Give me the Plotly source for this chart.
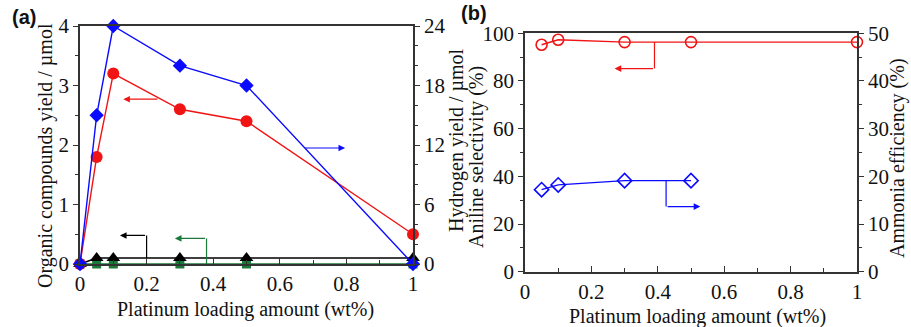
import plotly.graph_objects as go

W, H = 911, 327

# ---- Panel (a): yields vs platinum loading ----
pt_a = [0, 0.05, 0.1, 0.3, 0.5, 1.0]
organic_red = [0, 1.8, 3.2, 2.6, 2.4, 0.5]          # left axis (µmol)
hydrogen_blue = [0, 15, 24, 20, 18, 0]              # right axis (µmol)
organic_black = [0, 0.1, 0.1, 0.1, 0.1, 0.1]        # left axis (µmol)
organic_green = [0, 0, 0, 0, 0, 0]                  # left axis (µmol)

# ---- Panel (b): selectivity / efficiency ----
pt_b_sel = [0.05, 0.1, 0.3, 0.5, 1.0]
aniline_sel = [95.2, 97.3, 96.3, 96.3, 96.3]        # left axis (%)
pt_b_eff = [0.05, 0.1, 0.3, 0.5]
ammonia_eff = [17.2, 18.2, 19.1, 19.1]              # right axis (%)

# axis-pointer guides: elbow polyline + arrow tip
black_guide_x, black_guide_y = [0.2, 0.2], [0.1, 0.48]
black_tip_x = 0.12
green_guide_x, green_guide_y = [0.38, 0.38], [0, 0.43]
green_tip_x = 0.285
red_a_tail = (0.237, 2.77)
red_a_tip_x = 0.13
blue_a_tail = (0.671, 11.7)
blue_a_tip_x = 0.796
red_b_guide_x, red_b_guide_y = [0.39, 0.39], [96.3, 85.2]
red_b_tip_x = 0.27
blue_b_guide_x, blue_b_guide_y = [0.425, 0.425], [19.1, 13.65]
blue_b_tip_x = 0.528

RED = "#f01414"
BLUE = "#0a0aff"
GREEN = "#1b7a3a"
BLACK = "#000000"
AX = "#333333"
SERIF = "Liberation Serif"


def px_x(p):
    return p / W


def px_y(p):
    return 1 - p / H


fig = go.Figure()

# panel (a) traces
fig.add_trace(go.Scatter(x=pt_a, y=organic_green, mode="lines+markers",
                         line=dict(color=GREEN, width=1.6),
                         marker=dict(symbol="square", size=9, color=GREEN),
                         xaxis="x", yaxis="y", cliponaxis=False))
fig.add_trace(go.Scatter(x=pt_a, y=organic_black, mode="lines+markers",
                         line=dict(color=BLACK, width=1.6),
                         marker=dict(symbol="triangle-up", size=12, color=BLACK),
                         xaxis="x", yaxis="y", cliponaxis=False))
fig.add_trace(go.Scatter(x=pt_a, y=hydrogen_blue, mode="lines+markers",
                         line=dict(color=BLUE, width=1.4),
                         marker=dict(symbol="diamond", size=11, color=BLUE),
                         xaxis="x", yaxis="y2", cliponaxis=False))
fig.add_trace(go.Scatter(x=pt_a, y=organic_red, mode="lines+markers",
                         line=dict(color=RED, width=1.4),
                         marker=dict(symbol="circle", size=12, color=RED),
                         xaxis="x", yaxis="y", cliponaxis=False))

# panel (b) traces
fig.add_trace(go.Scatter(x=pt_b_sel, y=aniline_sel, mode="lines+markers",
                         line=dict(color=RED, width=1.4),
                         marker=dict(symbol="circle-open", size=11, color=RED,
                                     line=dict(width=1.6)),
                         xaxis="x2", yaxis="y3", cliponaxis=False))
fig.add_trace(go.Scatter(x=pt_b_eff, y=ammonia_eff, mode="lines+markers",
                         line=dict(color=BLUE, width=1.4),
                         marker=dict(symbol="diamond-open", size=11, color=BLUE,
                                     line=dict(width=1.6)),
                         xaxis="x2", yaxis="y4", cliponaxis=False))

# guide elbows
for gx, gy, col, xa, ya in [
    (black_guide_x, black_guide_y, BLACK, "x", "y"),
    (green_guide_x, green_guide_y, GREEN, "x", "y"),
    (red_b_guide_x, red_b_guide_y, RED, "x2", "y3"),
    (blue_b_guide_x, blue_b_guide_y, BLUE, "x2", "y4"),
]:
    fig.add_trace(go.Scatter(x=gx, y=gy, mode="lines", line=dict(color=col, width=1.2),
                             xaxis=xa, yaxis=ya, hoverinfo="skip"))


def arrow(tail_x, tail_y, tip_x, col, xa, ya):
    fig.add_annotation(x=tip_x, y=tail_y, ax=tail_x, ay=tail_y,
                       xref=xa, yref=ya, axref=xa, ayref=ya,
                       text="", showarrow=True, arrowhead=2, arrowsize=1.1,
                       arrowwidth=1.2, arrowcolor=col)


arrow(black_guide_x[1], black_guide_y[1], black_tip_x, BLACK, "x", "y")
arrow(green_guide_x[1], green_guide_y[1], green_tip_x, GREEN, "x", "y")
arrow(red_a_tail[0], red_a_tail[1], red_a_tip_x, RED, "x", "y")
arrow(blue_a_tail[0], blue_a_tail[1], blue_a_tip_x, BLUE, "x", "y2")
arrow(red_b_guide_x[1], red_b_guide_y[1], red_b_tip_x, RED, "x2", "y3")
arrow(blue_b_guide_x[1], blue_b_guide_y[1], blue_b_tip_x, BLUE, "x2", "y4")

tickfont = dict(family=SERIF, size=21, color="#111111")
common_x = dict(range=[0, 1], dtick=0.2, tick0=0, ticks="inside", ticklen=6,
                tickwidth=1.2, tickcolor=AX, showline=True, linecolor=AX,
                linewidth=1.5, mirror=True, showgrid=False, zeroline=False,
                tickfont=tickfont, tickformat="~g", automargin=False,
                minor=dict(dtick=0.1, ticks="inside", ticklen=4, tickcolor=AX))
common_y = dict(ticks="outside", ticklen=5, tickwidth=1.2, tickcolor=AX,
                showline=True, linecolor=AX, linewidth=1.5, showgrid=False,
                zeroline=False, tickfont=tickfont, automargin=False)

ya_dom = [px_y(264), px_y(26)]
yb_dom = [px_y(271.7), px_y(33.3)]

fig.update_layout(
    width=W, height=H,
    margin=dict(l=0, r=0, t=0, b=0, pad=0, autoexpand=False),
    paper_bgcolor="white", plot_bgcolor="white", showlegend=False,
    xaxis=dict(domain=[px_x(80), px_x(413)], anchor="y", **common_x),
    xaxis2=dict(domain=[px_x(525), px_x(857)], anchor="y3", **common_x),
    yaxis=dict(domain=ya_dom, anchor="x", range=[0, 4], dtick=1,
               minor=dict(dtick=0.5, ticks="outside", ticklen=3, tickcolor=AX),
               **common_y),
    yaxis2=dict(overlaying="y", anchor="x", side="right", range=[0, 24], dtick=6,
                minor=dict(dtick=2, ticks="outside", ticklen=3, tickcolor=AX),
                **common_y),
    yaxis3=dict(domain=yb_dom, anchor="x2", range=[0, 100], dtick=20,
                minor=dict(dtick=10, ticks="outside", ticklen=3, tickcolor=AX),
                **common_y),
    yaxis4=dict(overlaying="y3", anchor="x2", side="right", range=[0, 50], dtick=10,
                minor=dict(dtick=5, ticks="outside", ticklen=3, tickcolor=AX),
                **common_y),
)

titlefont = dict(family=SERIF, size=20, color="#111111")
titles = [
    ("Organic compounds yield / µmol", 45, 156, -90),
    ("Hydrogen yield / µmol", 457, 140, -90),
    ("Aniline selectivity (%)", 477, 157, -90),
    ("Ammonia efficiency (%)", 897, 158, -90),
    ("Platinum loading amount (wt%)", 246, 309, 0),
    ("Platinum loading amount (wt%)", 697, 316, 0),
]
for txt, cx, cy, ang in titles:
    fig.add_annotation(text=txt, x=px_x(cx), y=px_y(cy), xref="paper", yref="paper",
                       xanchor="center", yanchor="middle", textangle=ang,
                       showarrow=False, font=titlefont)

for lab, cx, cy in [("(a)", 24, 17), ("(b)", 474, 13)]:
    fig.add_annotation(text="<b>" + lab + "</b>", x=px_x(cx), y=px_y(cy),
                       xref="paper", yref="paper", xanchor="center", yanchor="middle",
                       showarrow=False,
                       font=dict(family="Liberation Sans", size=20, color="#111111"))

fig.write_html("out.html")
